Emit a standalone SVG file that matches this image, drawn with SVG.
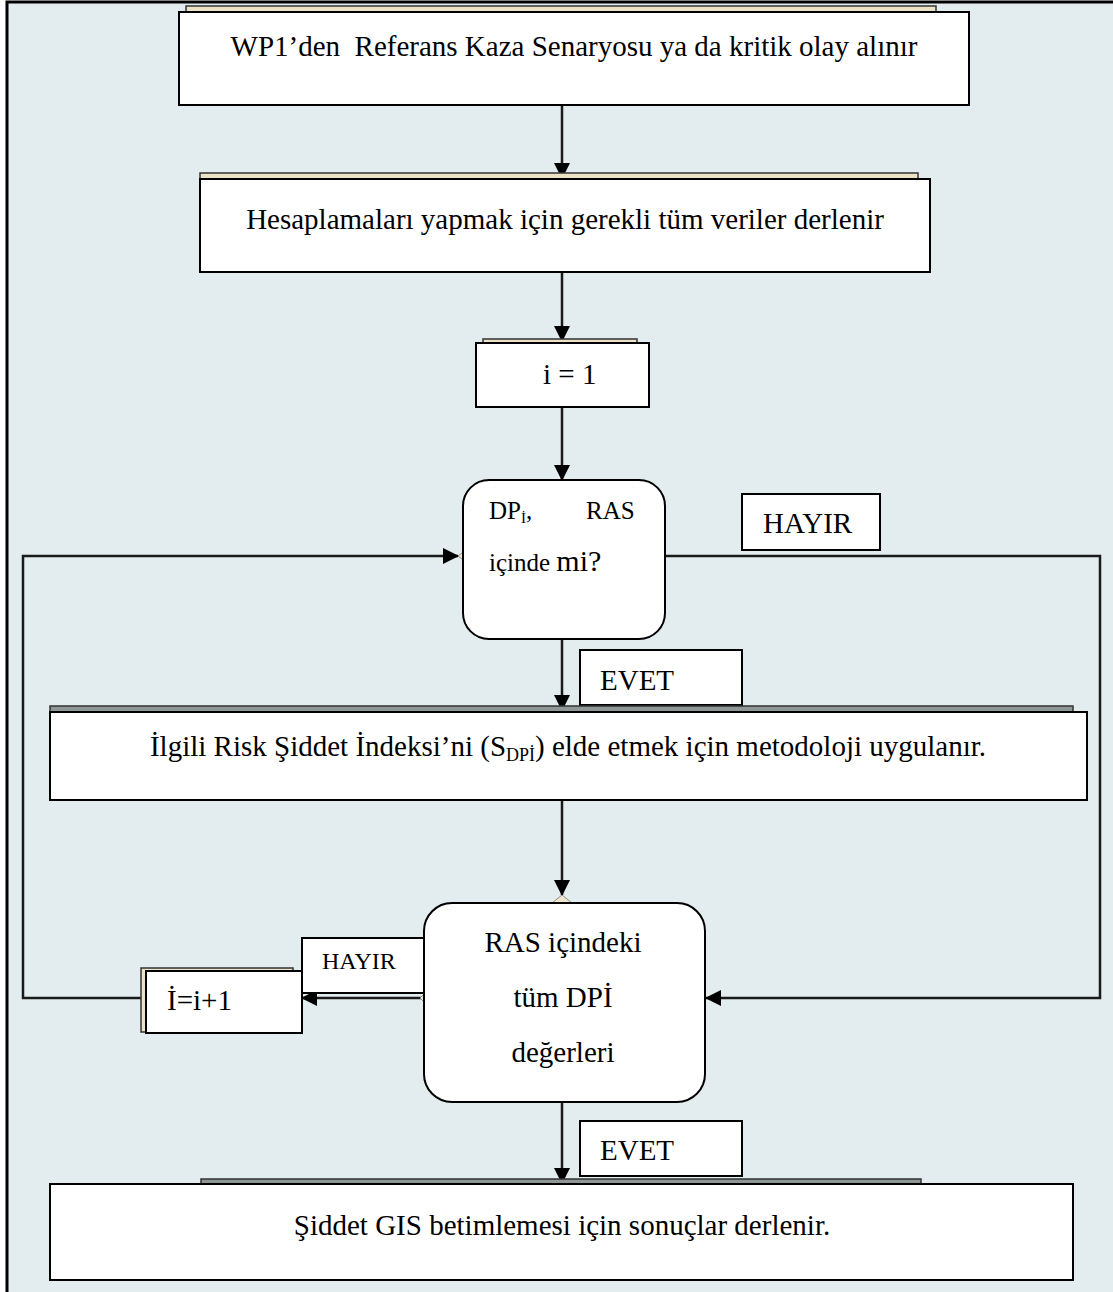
<svg xmlns="http://www.w3.org/2000/svg" width="1113" height="1292" viewBox="0 0 1113 1292">
<style>
.box{fill:#ffffff;stroke:#000;stroke-width:2}
.shadow{fill:#ece2c6;stroke:#333;stroke-width:1.5}
.gshadow{fill:#8e9696;stroke:#333;stroke-width:1.5}
.t{font-family:"Liberation Serif","Times New Roman",serif;font-size:29px;fill:#000}
.c{text-anchor:middle}
.conn{fill:none;stroke:#1a1a1a;stroke-width:2.5}
.tan{fill:#efe6cc;stroke:#777;stroke-width:0.8}
</style>
<defs>
<marker id="ah" viewBox="0 0 16 16" refX="15" refY="8" markerWidth="16" markerHeight="16" markerUnits="userSpaceOnUse" orient="auto">
<path d="M0,0 L16,8 L0,16 Z" fill="#000"/>
</marker>
</defs>
<rect x="0" y="0" width="1113" height="1292" fill="#ffffff"/>
<rect x="7" y="2" width="1106" height="1290" fill="#e3ecee"/>
<path d="M7,1292 V2 H1113" fill="none" stroke="#000" stroke-width="3"/>

<g id="connectors">
<path class="conn" d="M562,105 V178" marker-end="url(#ah)"/>
<path class="conn" d="M562,272 V341" marker-end="url(#ah)"/>
<path class="conn" d="M562,407 V480" marker-end="url(#ah)"/>
<path class="conn" d="M562,639 V710" marker-end="url(#ah)"/>
<path class="conn" d="M562,800 V895" marker-end="url(#ah)"/>
<path class="conn" d="M562,1102 V1183" marker-end="url(#ah)"/>
<path class="conn" d="M665,556 H1100 V998 H706" marker-end="url(#ah)"/>
<path class="conn" d="M424,998 H302" marker-end="url(#ah)"/>
<path class="conn" d="M142,998 H23 V556 H458" marker-end="url(#ah)"/>
<polygon class="tan" points="458,556 466,550 466,562"/>
<polygon class="tan" points="562,895 552,903 572,903"/>
<polygon class="tan" points="420,998 426,992 426,1004"/>
</g>

<g id="node-wp1">
<rect class="shadow" x="186" y="6" width="750" height="10"/>
<rect class="box" x="179" y="12" width="790" height="93"/>
<text class="t c" x="574" y="56" xml:space="preserve">WP1’den  Referans Kaza Senaryosu ya da kritik olay alınır</text>
</g>

<g id="node-veriler">
<rect class="shadow" x="200" y="173" width="718" height="8"/>
<rect class="box" x="200" y="179" width="730" height="93"/>
<text class="t c" x="565" y="229">Hesaplamaları yapmak için gerekli tüm veriler derlenir</text>
</g>

<g id="node-i1">
<rect class="shadow" x="483" y="339" width="154" height="6"/>
<rect class="box" x="476" y="343" width="173" height="64"/>
<text class="t" x="543" y="384" xml:space="preserve">i = 1</text>
</g>

<g id="node-karar1">
<rect class="box" x="463" y="480" width="202" height="159" rx="26" ry="26"/>
<text class="t" style="font-size:25px" x="489" y="519">DP<tspan font-size="15" dy="4">İ</tspan><tspan dy="-4">,</tspan><tspan x="586">RAS</tspan></text>
<text class="t" style="font-size:25px" x="489" y="571">içinde <tspan font-size="30">mi?</tspan></text>
</g>

<g id="label-hayir1">
<rect class="box" x="742" y="494" width="138" height="56"/>
<text class="t" x="763" y="533">HAYIR</text>
</g>

<g id="label-evet1">
<rect class="box" x="580" y="650" width="162" height="55"/>
<text class="t" x="600" y="690">EVET</text>
</g>

<g id="node-metodoloji">
<rect class="gshadow" x="50" y="706" width="1023" height="7"/>
<rect class="box" x="50" y="712" width="1037" height="88"/>
<text class="t c" x="568" y="756">İlgili Risk Şiddet İndeksi’ni (S<tspan font-size="18" dy="5">DPİ</tspan><tspan dy="-5">) elde etmek için metodoloji uygulanır.</tspan></text>
</g>

<g id="label-hayir2">
<rect class="box" x="302" y="938" width="124" height="55"/>
<text class="t" style="font-size:24px" x="322" y="969">HAYIR</text>
</g>

<g id="node-artir">
<rect class="shadow" x="141" y="968" width="152" height="64"/>
<rect class="box" x="146" y="971" width="156" height="62"/>
<text class="t" x="167" y="1010">İ=i+1</text>
</g>

<g id="node-karar2">
<rect class="box" x="424" y="903" width="281" height="199" rx="28" ry="28"/>
<text class="t c" x="563" y="952">RAS içindeki</text>
<text class="t c" x="563" y="1007">tüm DPİ</text>
<text class="t c" x="563" y="1062">değerleri</text>
</g>

<g id="label-evet2">
<rect class="box" x="580" y="1121" width="162" height="55"/>
<text class="t" x="600" y="1160">EVET</text>
</g>

<g id="node-sonuc">
<rect class="gshadow" x="201" y="1179" width="720" height="6"/>
<rect class="box" x="50" y="1184" width="1023" height="96"/>
<text class="t c" x="562" y="1235">Şiddet GIS betimlemesi için sonuçlar derlenir.</text>
</g>
</svg>
